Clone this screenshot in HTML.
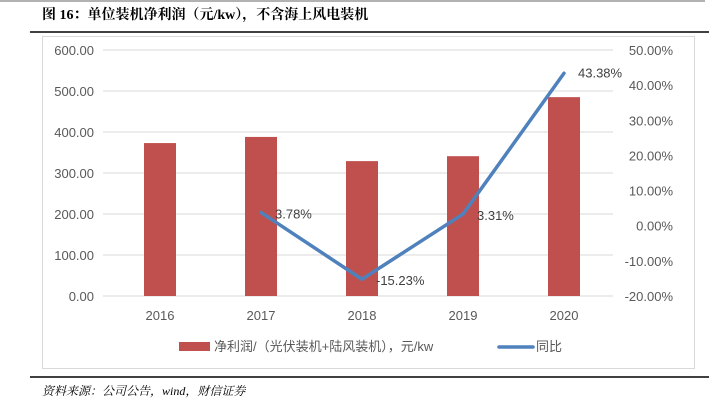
<!DOCTYPE html>
<html><head><meta charset="utf-8"><style>
body{margin:0;width:709px;height:406px;background:#fff;overflow:hidden;font-family:"Liberation Sans","Noto Sans CJK SC",sans-serif}
</style></head><body>
<svg width="709" height="406" style="position:absolute;left:0;top:0">
<line x1="0" y1="1" x2="705" y2="1" stroke="#999" stroke-width="1.5"/>
<text x="42" y="19" font-size="14" font-weight="bold" font-family="Liberation Serif,'Noto Serif CJK SC',serif">图 16：单位装机净利润（元/kw），不含海上风电装机</text>
<line x1="30" y1="32" x2="709" y2="32" stroke="#000" stroke-width="1.5"/>
<rect x="42.5" y="36.5" width="652" height="332" fill="none" stroke="#d9d9d9"/>
<g id="grid"></g><g id="bars"></g><g id="line"></g><g id="labels"></g>
<rect x="179" y="342" width="31" height="9" fill="#c0504d"/>
<text x="214" y="351" font-size="13" fill="#595959">净利润/（光伏装机+陆风装机），元/kw</text>
<line x1="499" y1="347" x2="533" y2="347" stroke="#4f81bd" stroke-width="3.5" stroke-linecap="round"/>
<text x="536" y="351" font-size="13" fill="#595959">同比</text>
<line x1="30" y1="377" x2="709" y2="377" stroke="#000" stroke-width="1.5"/>
<text x="42" y="395" font-size="12" font-style="italic" font-family="Liberation Serif,'Noto Serif CJK SC',serif">资料来源：公司公告，wind，财信证券</text>
</svg>
<script>
const categories=["2016","2017","2018","2019","2020"];
const profitValues=[373,388,329,341,485];
const yoyValues=[null,3.78,-15.23,3.31,43.38];
const yoyLabels=["","3.78%","-15.23%","3.31%","43.38%"];
const leftTicks=[0,100,200,300,400,500,600];
const rightTicks=[-20,-10,0,10,20,30,40,50];
const NS="http://www.w3.org/2000/svg";
const y0=296,y1=50;
const yL=v=>y0-(v/600)*(y0-y1);
const yR=v=>y0-((v+20)/70)*(y0-y1);
const xC=i=>160+i*101;
function mk(t,a,p){const e=document.createElementNS(NS,t);for(const k in a)e.setAttribute(k,a[k]);document.getElementById(p).appendChild(e);return e;}
leftTicks.forEach(v=>{
 const l=mk('line',{x1:103,x2:613,y1:yL(v),y2:yL(v),stroke:'#d9d9d9'},'grid');
 
 
 const t=mk('text',{x:94,y:yL(v)+5,'font-size':13,fill:'#595959','text-anchor':'end'},'labels');t.textContent=v.toFixed(2);
 
 
});
rightTicks.forEach(v=>{
 const t=mk('text',{x:673,y:yR(v)+5,'font-size':13,fill:'#595959','text-anchor':'end'},'labels');t.textContent=v.toFixed(2)+'%';
 
 
});
categories.forEach((c,i)=>{
 const b=mk('rect',{x:xC(i)-16,width:32,y:yL(profitValues[i]),height:y0-yL(profitValues[i]),fill:'#c0504d'},'bars');
 
 
 const t=mk('text',{x:xC(i),y:320,'font-size':13,fill:'#595959','text-anchor':'middle'},'labels');t.textContent=c;
 
 
});
const pts=[];yoyValues.forEach((v,i)=>{if(v!==null)pts.push([xC(i),yR(v),i]);});
const d='M'+pts.map(p=>p[0]+','+p[1]).join(' L');
const ln=mk('path',{d:d,fill:'none',stroke:'#4f81bd','stroke-width':3.5,'stroke-linecap':'round','stroke-linejoin':'round'},'line');


pts.forEach(p=>{
 const i=p[2];
 const t=mk('text',{x:i===4?p[0]+14:p[0]+14,y:i===4?p[1]+4:p[1]+6,'font-size':13,fill:'#404040'},'labels');
 t.textContent=yoyLabels[i];
 
 
});
</script>
</body></html>
